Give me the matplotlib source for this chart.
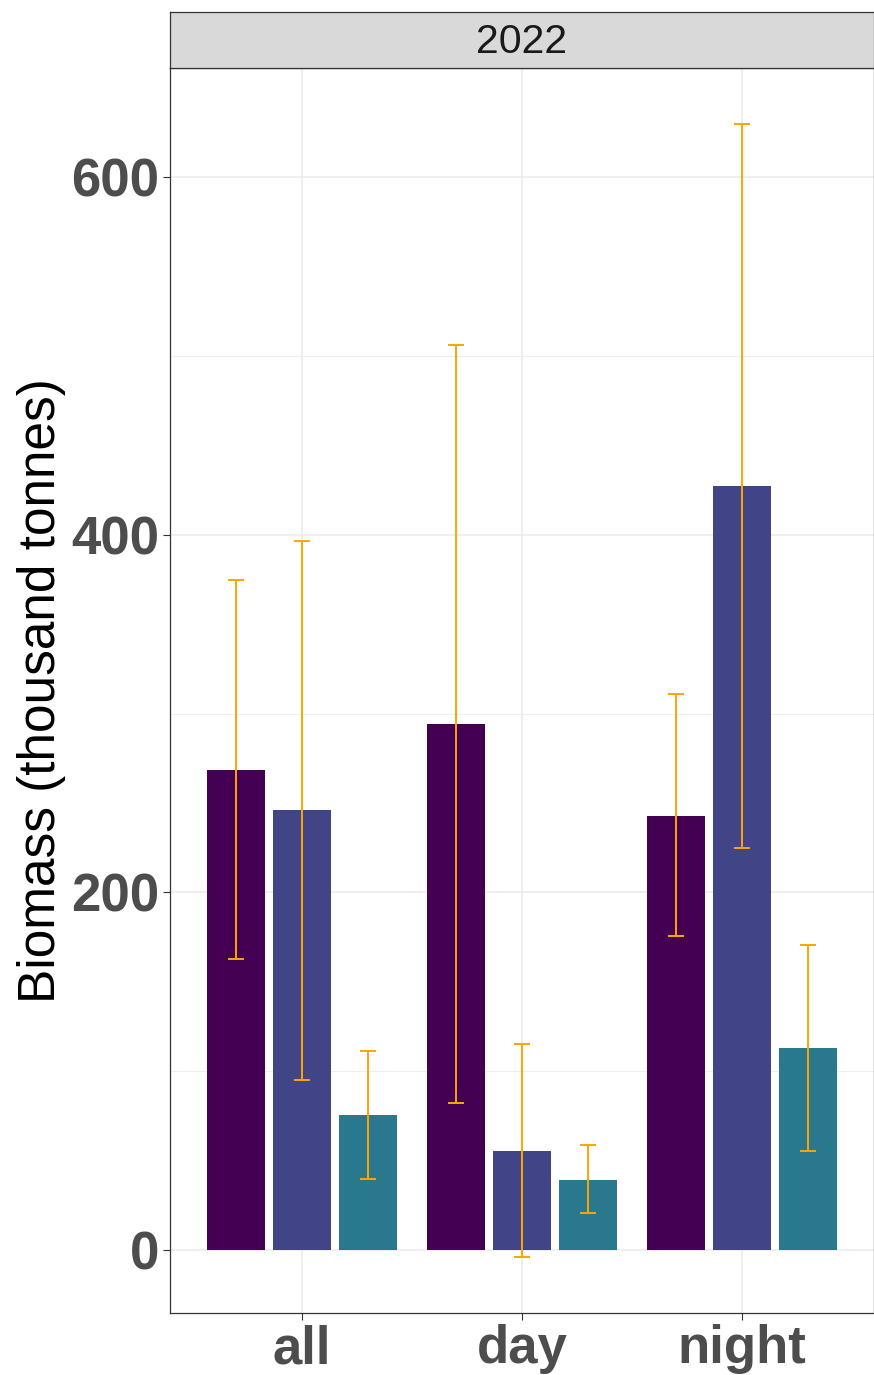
import matplotlib
matplotlib.use("Agg")
import matplotlib.pyplot as plt
import numpy as np

plt.rcParams['font.family'] = ['Liberation Sans', 'DejaVu Sans']

periods = ["all", "day", "night"]
groups = ["g1", "g2", "g3"]
biomass = {
    "g1": [268.5, 294.0, 242.7],
    "g2": [246.0, 55.4, 427.0],
    "g3": [75.5, 39.0, 113.0],
}
lower = {
    "g1": [162.7, 82.2, 175.6],
    "g2": [95.0, -3.9, 224.8],
    "g3": [39.7, 20.7, 55.4],
}
upper = {
    "g1": [374.7, 506.0, 311.0],
    "g2": [396.5, 115.2, 629.8],
    "g3": [111.3, 58.7, 170.6],
}
colors = ["#440154", "#414487", "#2A788E"]
facet_title = "2022"
ylabel = "Biomass (thousand tonnes)"
yticks = [0, 200, 400, 600]

W, H = 874, 1375
fig = plt.figure(figsize=(W / 100, H / 100), dpi=100)
ax = fig.add_axes([170 / W, (H - 1313) / H, (874 - 170) / W, (1313 - 68) / H])
sax = fig.add_axes([170 / W, (H - 68) / H, (874 - 170) / W, (68 - 12) / H])

x = np.arange(1, len(periods) + 1)
dodge = 0.3
bw = 0.8 / 3
for i, g in enumerate(groups):
    xs = x + (i - 1) * dodge
    vals = np.array(biomass[g])
    ax.bar(xs, vals, width=bw, color=colors[i], zorder=2)
    lo = vals - np.array(lower[g])
    hi = np.array(upper[g]) - vals
    ax.errorbar(xs, vals, yerr=[lo, hi], fmt='none', ecolor='#FFA500',
                elinewidth=1.4, capsize=5.8, capthick=1.4, zorder=3)

ax.set_xlim(0.4, 3.6)
ax.set_ylim(-35.2, 661)
ax.set_xticks(x)
ax.set_xticklabels(periods)
ax.set_yticks(yticks)
ax.set_yticks([100, 300, 500], minor=True)
ax.tick_params(axis='both', which='major', labelsize=38, colors='#333333',
               length=5, width=0.8, labelcolor='#4D4D4D', pad=3)
ax.tick_params(axis='both', which='minor', length=0)
for lab in ax.get_xticklabels() + ax.get_yticklabels():
    lab.set_fontweight('bold')
ax.grid(True, which='major', color='#EBEBEB', linewidth=1.1, zorder=0)
ax.grid(True, which='minor', axis='y', color='#EBEBEB', linewidth=0.55, zorder=0)
ax.set_axisbelow(True)
for sp in ax.spines.values():
    sp.set_color('#333333')
    sp.set_linewidth(0.9)
ax.set_ylabel(ylabel, fontsize=37, color='black', labelpad=3.5)

sax.set_facecolor('#D9D9D9')
sax.set_xticks([])
sax.set_yticks([])
for sp in sax.spines.values():
    sp.set_color('#333333')
    sp.set_linewidth(0.9)
sax.text(0.5, 0.47, facet_title, ha='center', va='center', fontsize=29.5,
         color='#1A1A1A', transform=sax.transAxes)

fig.savefig("out.png", dpi=100, facecolor='white')
